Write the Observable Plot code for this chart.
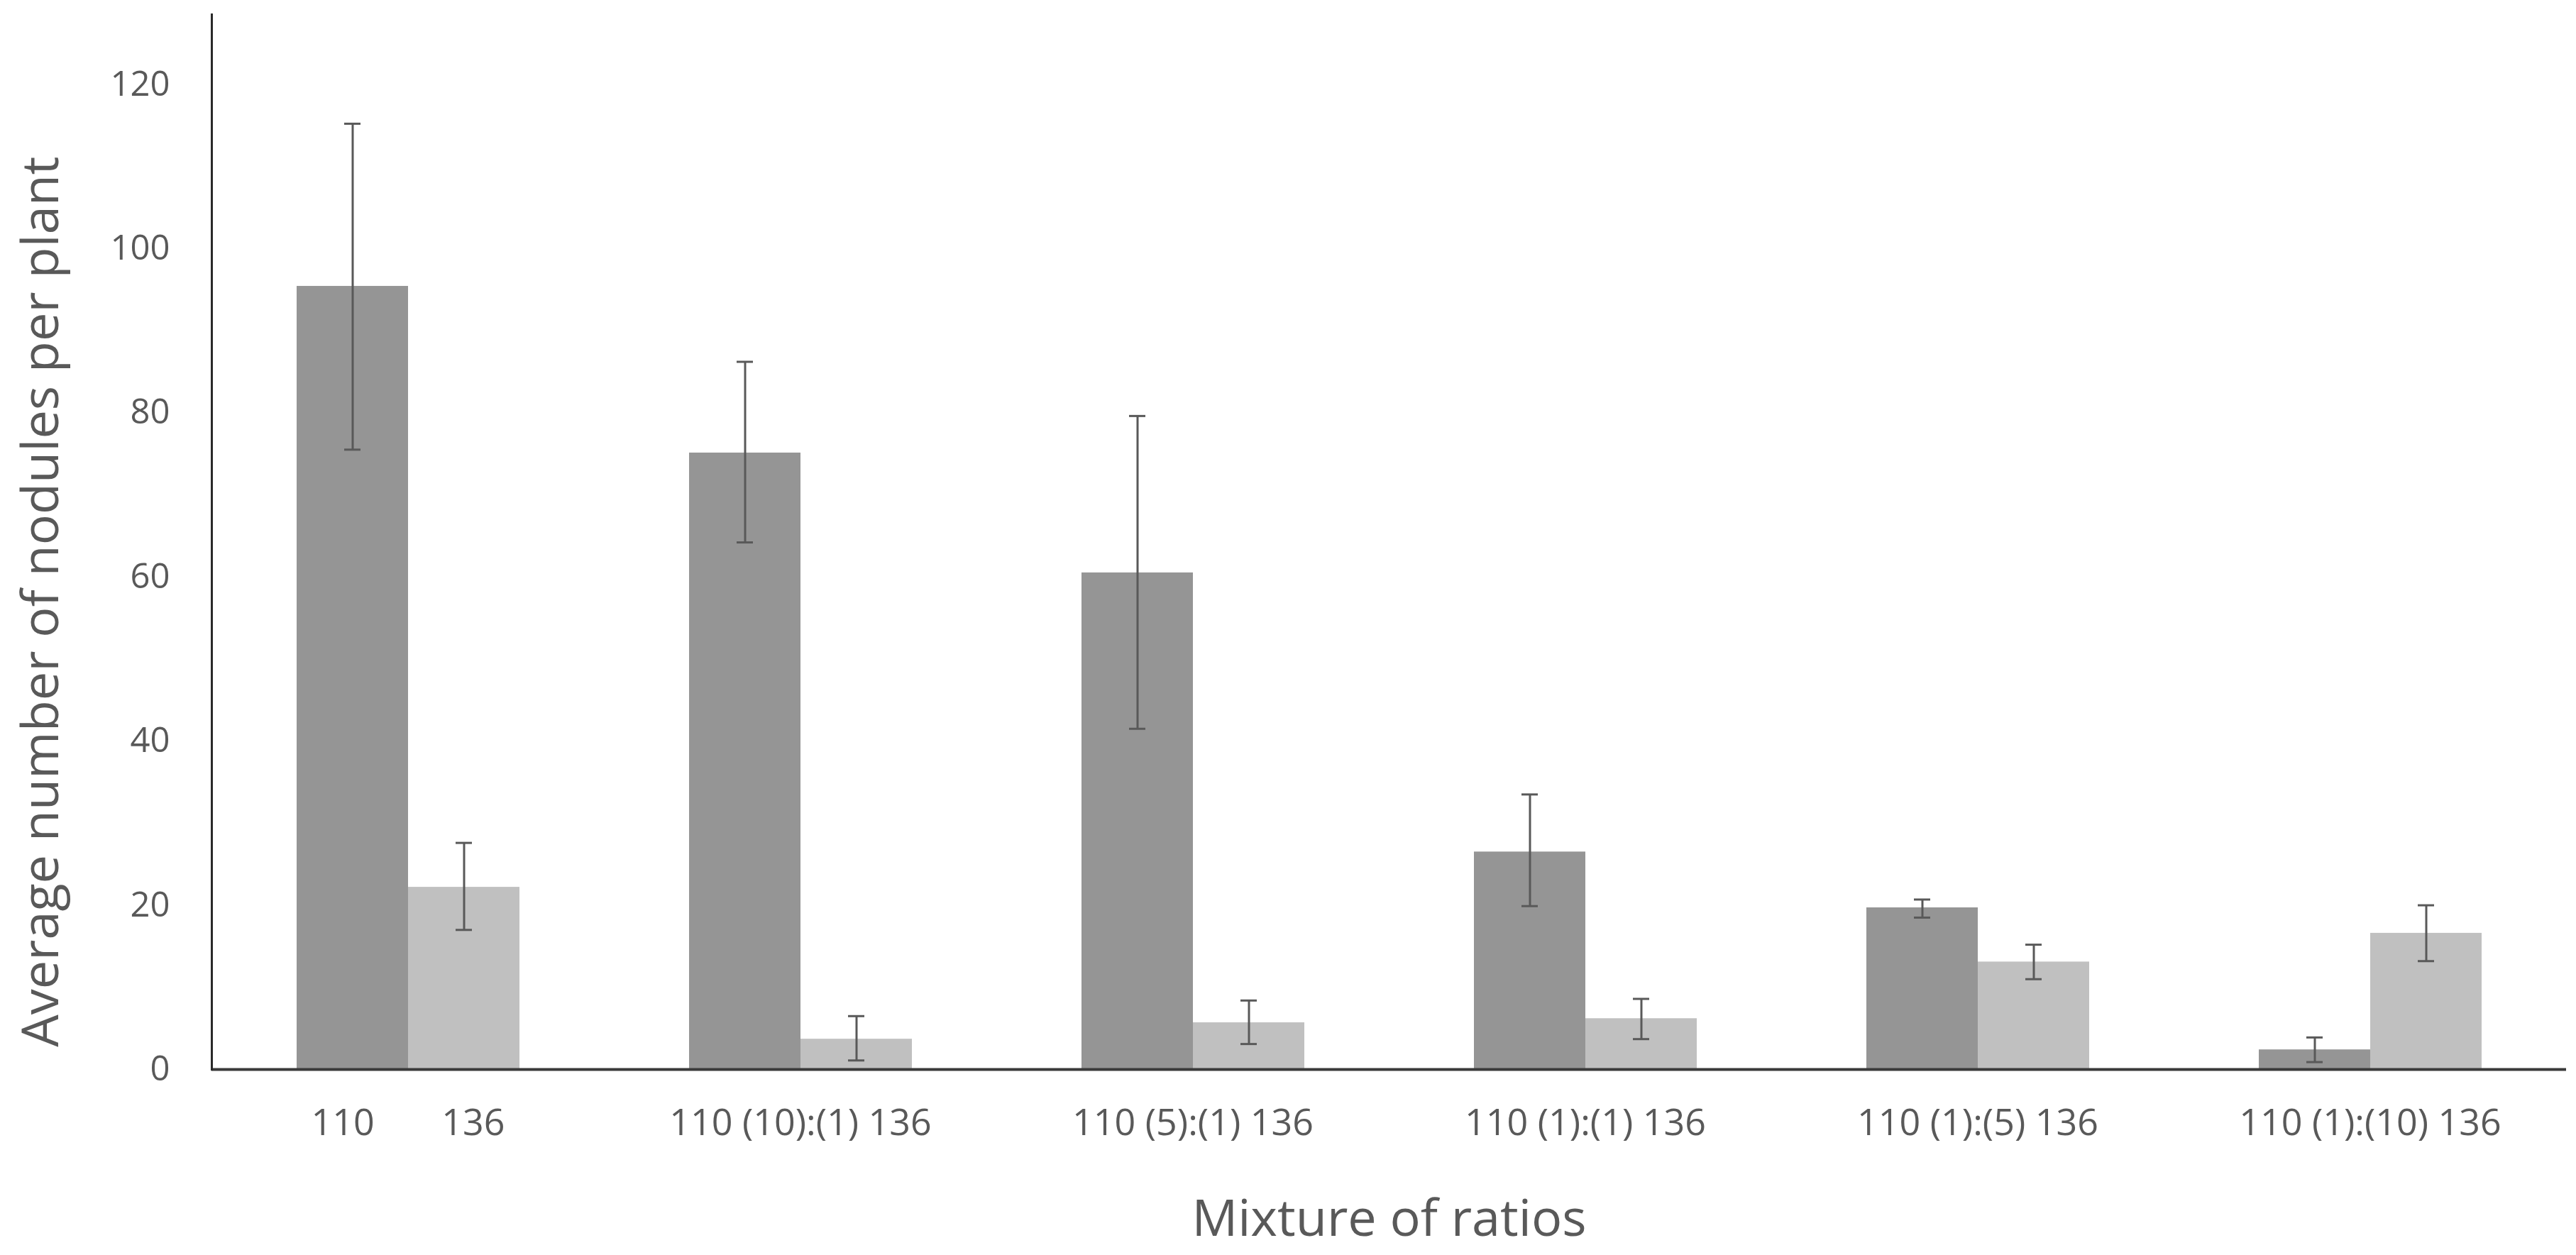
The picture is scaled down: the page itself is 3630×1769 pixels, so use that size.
<!DOCTYPE html>
<html>
<head>
<meta charset="utf-8">
<script src="https://cdn.jsdelivr.net/npm/d3@7"></script>
<script src="https://cdn.jsdelivr.net/npm/@observablehq/plot@0.6"></script>
<style>
  html, body { margin: 0; padding: 0; background: #ffffff; }
  #chart svg { display: block; }
</style>
</head>
<body>
<div id="chart"></div>
<script>
// Categories (x axis groups)
const groups = [
  "110\u00a0\u00a0\u00a0\u00a0\u00a0\u00a0\u00a0136",
  "110 (10):(1) 136",
  "110 (5):(1) 136",
  "110 (1):(1) 136",
  "110 (1):(5) 136",
  "110 (1):(10) 136"
];
// Series (strains)
const series = ["110", "136"];
// Mean values
const values110 = [95.4, 75.1, 60.5, 26.5, 19.7, 2.4];
const values136 = [22.2, 3.7, 5.7, 6.2, 13.1, 16.6];
// Error bar bounds
const low110  = [75.5, 64.2, 41.5, 19.9, 18.5, 0.9];
const high110 = [115.2, 86.2, 79.6, 33.5, 20.7, 3.9];
const low136  = [17.0, 1.1, 3.1, 3.7, 11.0, 13.2];
const high136 = [27.6, 6.5, 8.4, 8.6, 15.2, 20.0];
// Y tick values
const yTicks = [0, 20, 40, 60, 80, 100, 120];
// Axis titles
const yTitle = "Average number of nodules per plant";
const xTitle = "Mixture of ratios";

const rows = groups.flatMap((g, i) => [
  {group: g, series: series[0], value: values110[i], lo: low110[i], hi: high110[i]},
  {group: g, series: series[1], value: values136[i], lo: low136[i], hi: high136[i]}
]);

const errColor = "#595959";

const chart = Plot.plot({
  width: 3630,
  height: 1769,
  marginLeft: 296,
  marginRight: 12,
  marginTop: 20,
  marginBottom: 262,
  style: {fontFamily: "'Open Sans', sans-serif", fontSize: "48px", color: "#595959", background: "#ffffff"},
  fx: {domain: groups, padding: 0, label: null, axis: null},
  x: {domain: series, paddingInner: 0, paddingOuter: 0.754, axis: null},
  y: {domain: [0, 128.5], label: null, axis: null},
  color: {domain: series, range: ["#959595", "#c0c0c0"]},
  marks: [
    Plot.barY(rows, {fx: "group", x: "series", y: "value", fill: "series"}),
    Plot.ruleX(rows, {fx: "group", x: "series", y1: "lo", y2: "hi", stroke: errColor, strokeWidth: 3}),
    Plot.tickY(rows, {fx: "group", x: "series", y: "lo", stroke: errColor, strokeWidth: 3, insetLeft: 67, insetRight: 67}),
    Plot.tickY(rows, {fx: "group", x: "series", y: "hi", stroke: errColor, strokeWidth: 3, insetLeft: 67, insetRight: 67}),
    Plot.ruleY([0], {stroke: "#3a3a3a", strokeWidth: 4}),
    Plot.frame({anchor: "left", fx: () => groups[0], stroke: "#2a2a2a", strokeWidth: 3}),
    Plot.axisY({ticks: yTicks, tickSize: 0, tickPadding: 59, fontSize: 49, fill: "#595959", label: null}),
    Plot.axisY({ticks: [], label: yTitle + "\u00a0".repeat(9), labelAnchor: "center", labelArrow: "none", labelOffset: 268, fontSize: 72, fill: "#595959"}),
    Plot.axisFx({anchor: "bottom", tickSize: 0, tickPadding: 56, fontSize: 52, fill: "#595959", label: null}),
    Plot.axisFx({anchor: "bottom", ticks: [], label: xTitle, labelAnchor: "center", labelArrow: "none", labelOffset: 234, fontSize: 72, fill: "#595959"})
  ]
});
document.getElementById("chart").appendChild(chart);
</script>
</body>
</html>
